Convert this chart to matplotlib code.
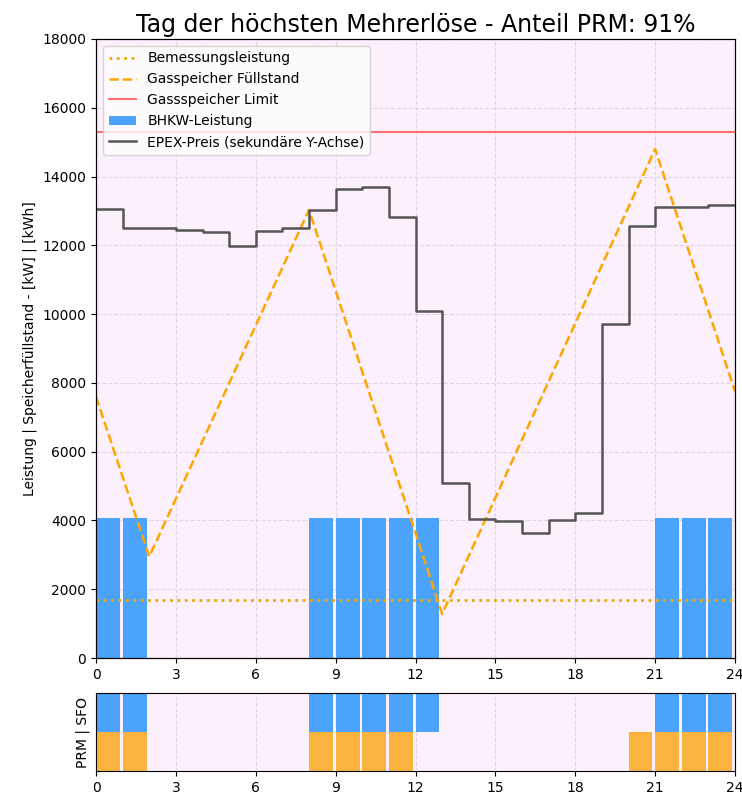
import numpy as np
import matplotlib
matplotlib.use("Agg")
import matplotlib.pyplot as plt
from matplotlib.ticker import MultipleLocator

# Stunden des Tages
hours = np.arange(0, 25)

# Gasspeicher-Füllstand am Stundenbeginn [kWh]
fuellstand = [7600, 5270, 2950, 4630, 6310, 7990, 9670, 11350, 13030,
              10680, 8330, 5980, 3630, 1280, 2970, 4660, 6350, 8040,
              9730, 11420, 13110, 14800, 12450, 10100, 7750]

# EPEX Day-Ahead Preis je Stunde [EUR/MWh], letzter Wert für die Stufe bis 24 Uhr
epex = [130.5, 125.0, 125.0, 124.5, 123.9, 119.8, 124.2, 124.9, 130.3,
        136.4, 136.9, 128.1, 101.0, 50.9, 40.4, 39.9, 36.3, 40.1, 42.1,
        97.1, 125.6, 131.0, 131.0, 131.6, 131.6]

bemessungsleistung = 1700
speicher_limit = 15300
bhkw_leistung = 4070

# Betriebsstunden BHKW
bhkw_hours = [0, 1, 8, 9, 10, 11, 12, 21, 22, 23]
sfo_hours = [0, 1, 8, 9, 10, 11, 12, 21, 22, 23]
prm_hours = [0, 1, 8, 9, 10, 11, 20, 21, 22, 23]

BG = "#fcf0fc"
BLUE = "#4ca3fb"
ORANGE = "#fbb33f"

fig = plt.figure(figsize=(7.42, 7.95), dpi=100)
ax = fig.add_axes([0.1294, 0.1723, 0.8612, 0.7787])
ax_bot = fig.add_axes([0.1294, 0.0302, 0.8612, 0.0978])

ax.set_facecolor(BG)
ax.set_axisbelow(True)
ax.grid(True, linestyle="--", color="#d8d0dc", linewidth=0.8, alpha=0.8)

h_bem, = ax.plot([0, 24], [bemessungsleistung] * 2, linestyle=":",
                 color="#e9a90c", linewidth=2, label="Bemessungsleistung")
h_fs, = ax.plot(hours, fuellstand, linestyle="--", color="orange",
                linewidth=1.8, label="Gasspeicher Füllstand")
h_lim = ax.axhline(speicher_limit, color="#ff7070", linewidth=1.5,
                   label="Gassspeicher Limit")
h_bhkw = ax.bar(bhkw_hours, [bhkw_leistung] * len(bhkw_hours), width=0.9,
                align="edge", color=BLUE, label="BHKW-Leistung")

ax.set_xlim(0, 24)
ax.set_ylim(0, 18000)
ax.xaxis.set_major_locator(MultipleLocator(3))
ax.yaxis.set_major_locator(MultipleLocator(2000))
ax.set_ylabel("Leistung | Speicherfüllstand - [kW] | [kWh]")
ax.set_title("Tag der höchsten Mehrerlöse - Anteil PRM: 91%", fontsize=17,
             pad=5)

# EPEX-Preis auf sekundärer Achse
ax2 = ax.twinx()
h_epex, = ax2.step(hours, epex, where="post", color="#555555",
                   linewidth=1.8, label="EPEX-Preis (sekundäre Y-Achse)")
ax2.set_ylim(0, 180)
ax2.set_yticks([])

ax.legend(handles=[h_bem, h_fs, h_lim, h_bhkw, h_epex], loc="upper left",
          fontsize=10)

# Vermarktung je Stunde: PRM unten, SFO oben
ax_bot.set_facecolor(BG)
ax_bot.set_axisbelow(True)
ax_bot.grid(True, axis="x", linestyle="--", color="#d8d0dc",
            linewidth=0.8, alpha=0.8)
ax_bot.bar(prm_hours, [1] * len(prm_hours), width=0.9, align="edge",
           bottom=0, color=ORANGE)
ax_bot.bar(sfo_hours, [1] * len(sfo_hours), width=0.9, align="edge",
           bottom=1, color=BLUE)
ax_bot.set_xlim(0, 24)
ax_bot.set_ylim(0, 2)
ax_bot.set_yticks([])
ax_bot.xaxis.set_major_locator(MultipleLocator(3))
ax_bot.set_ylabel("PRM | SFO")

fig.savefig("out.png", dpi=100)
